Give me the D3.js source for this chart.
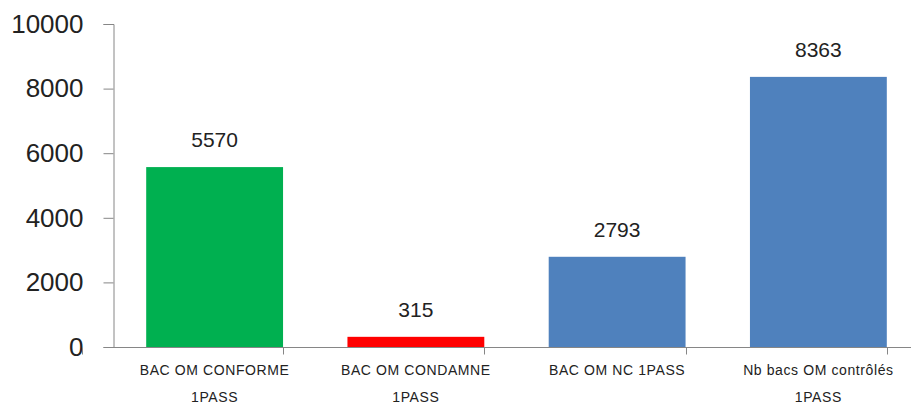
<!DOCTYPE html>
<html>
<head>
<meta charset="utf-8">
<script src="https://cdn.jsdelivr.net/npm/d3@7"></script>
<style>
  body { margin: 0; background: #fff; }
</style>
</head>
<body>
<div id="chart"></div>
<script>
const categories = [
  ["BAC OM CONFORME", "1PASS"],
  ["BAC OM CONDAMNE", "1PASS"],
  ["BAC OM NC 1PASS"],
  ["Nb bacs OM contrôlés", "1PASS"]
];
const values = [5570, 315, 2793, 8363];
const barColors = ["#00B050", "#FF0000", "#4F81BD", "#4F81BD"];
const yTicks = [0, 2000, 4000, 6000, 8000, 10000];

const width = 911, height = 405;
const margin = {top: 24, right: -8, bottom: 58, left: 114};

const svg = d3.select("#chart")
  .append("svg")
    .attr("width", width)
    .attr("height", height);

const x = d3.scaleBand()
  .domain(d3.range(categories.length))
  .range([margin.left, width - margin.right])
  .paddingInner(0.32)
  .paddingOuter(0.16);

const y = d3.scaleLinear()
  .domain([0, 10000])
  .range([height - margin.bottom, margin.top]);

const axisColor = "#868686";
const textColor = "#222";

// y axis
const yAxis = svg.append("g")
  .attr("transform", "translate(" + (margin.left - 0.5) + ",0)")
  .call(d3.axisLeft(y).tickValues(yTicks).tickSize(10).tickPadding(20).tickFormat(d3.format("d")));
yAxis.select(".domain").attr("stroke", axisColor);
yAxis.selectAll(".tick line").attr("stroke", axisColor);
yAxis.selectAll("text")
  .style("font-family", "Liberation Sans, Arial, sans-serif")
  .style("font-size", "26px")
  .attr("fill", textColor);

// x axis line with category ticks
const x0 = y(0) + 0.5;
svg.append("line")
  .attr("x1", margin.left - 10).attr("x2", width)
  .attr("y1", x0).attr("y2", x0)
  .attr("stroke", axisColor);

const bandStep = x.step();
const bounds = d3.range(categories.length + 1).map(i => x(0) - x.paddingOuter() * bandStep - x.paddingInner() * bandStep / 2 + i * bandStep);
svg.selectAll(".cattick")
  .data(bounds)
  .enter()
  .append("line")
    .attr("x1", d => Math.round(d) + 0.5).attr("x2", d => Math.round(d) + 0.5)
    .attr("y1", x0).attr("y2", x0 + 7)
    .attr("stroke", axisColor);

// bars
svg.selectAll("rect.bar")
  .data(values)
  .enter()
  .append("rect")
    .attr("class", "bar")
    .attr("x", (d, i) => x(i))
    .attr("width", x.bandwidth())
    .attr("y", d => y(d))
    .attr("height", d => y(0) - y(d))
    .attr("fill", (d, i) => barColors[i]);

// value labels
svg.selectAll("text.val")
  .data(values)
  .enter()
  .append("text")
    .attr("class", "val")
    .attr("x", (d, i) => x(i) + x.bandwidth() / 2)
    .attr("y", d => y(d) - 20)
    .attr("text-anchor", "middle")
    .style("font-family", "Liberation Sans, Arial, sans-serif")
    .style("font-size", "21px")
    .style("fill", textColor)
    .text(d => d);

// category labels
const cat = svg.selectAll("text.cat")
  .data(categories)
  .enter()
  .append("text")
    .attr("class", "cat")
    .attr("text-anchor", "middle")
    .style("font-family", "Liberation Sans, Arial, sans-serif")
    .style("font-size", "14px")
    .style("letter-spacing", "0.6px")
    .style("fill", textColor);

cat.each(function(lines, i) {
  const t = d3.select(this);
  lines.forEach((line, j) => {
    t.append("tspan")
      .attr("x", x(i) + x.bandwidth() / 2)
      .attr("y", 375 + j * 27)
      .text(line);
  });
});
</script>
</body>
</html>
